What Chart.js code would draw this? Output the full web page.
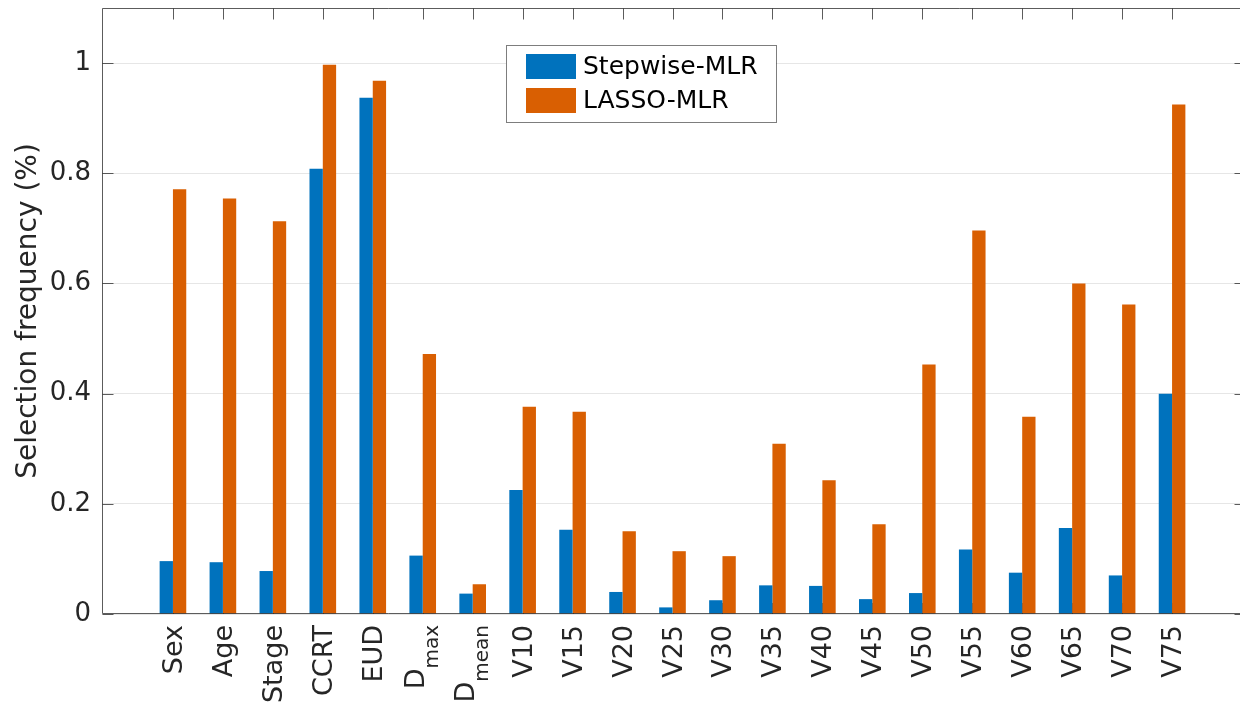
<!DOCTYPE html>
<html>
<head>
<meta charset="utf-8">
<title>Selection frequency</title>
<script src="https://cdn.jsdelivr.net/npm/chart.js@4/dist/chart.umd.min.js"></script>
<style>
  html, body { margin: 0; padding: 0; background: #fff; overflow: hidden; }
  canvas { display: block; }
</style>
</head>
<body>
<canvas id="freq-chart" width="1250" height="705"></canvas>
<script>
// candidate predictors; "_" marks a subscript (D_max -> D with "max" below)
const categories = ['Sex', 'Age', 'Stage', 'CCRT', 'EUD', 'D_max', 'D_mean',
  'V10', 'V15', 'V20', 'V25', 'V30', 'V35', 'V40', 'V45', 'V50',
  'V55', 'V60', 'V65', 'V70', 'V75'];

const stepwiseMLR = [0.096, 0.094, 0.078, 0.808, 0.937, 0.106, 0.037,
  0.225, 0.153, 0.040, 0.012, 0.025, 0.052, 0.051, 0.027, 0.038,
  0.117, 0.075, 0.156, 0.070, 0.400];

const lassoMLR = [0.771, 0.754, 0.713, 0.997, 0.968, 0.472, 0.054,
  0.376, 0.367, 0.150, 0.114, 0.105, 0.309, 0.243, 0.163, 0.453,
  0.696, 0.358, 0.600, 0.562, 0.925];

const yTickValues = [0, 0.2, 0.4, 0.6, 0.8, 1];

const FONT = '"DejaVu Sans", sans-serif';
const TEXT_COLOR = '#262626';
const FRAME_COLOR = 'rgba(38,38,38,0.75)';
const TICK_LEN = 11;

// bars sit at 1..N on a numeric axis so the limits can run past the first/last group
const positions = categories.map((_, i) => i + 1);
const toPoints = vals => vals.map((v, i) => ({ x: positions[i], y: v }));

const framePlugin = {
  id: 'frame',
  beforeDatasetsDraw(chart) {
    const { ctx, chartArea: a, scales: { x } } = chart;
    ctx.save();
    ctx.strokeStyle = FRAME_COLOR;
    ctx.lineWidth = 1;
    ctx.beginPath();
    positions.forEach(p => {
      const px = Math.round(x.getPixelForValue(p)) + 0.5;
      ctx.moveTo(px, a.bottom);
      ctx.lineTo(px, a.bottom - TICK_LEN);
    });
    ctx.stroke();
    ctx.restore();
  },
  afterDatasetsDraw(chart) {
    const { ctx, chartArea: a, scales: { x, y } } = chart;
    const L = Math.round(a.left) + 0.5, R = Math.round(a.right) - 0.5;
    const T = Math.round(a.top) + 0.5, B = Math.round(a.bottom) - 0.5;
    ctx.save();
    ctx.strokeStyle = FRAME_COLOR;
    ctx.lineWidth = 1;
    ctx.beginPath();
    ctx.rect(L, T, R - L, B - T);
    positions.forEach(p => {
      const px = Math.round(x.getPixelForValue(p)) + 0.5;
      ctx.moveTo(px, T);
      ctx.lineTo(px, T + TICK_LEN);
    });
    yTickValues.forEach(v => {
      const py = Math.round(y.getPixelForValue(v)) + 0.5;
      ctx.moveTo(L, py);
      ctx.lineTo(L + TICK_LEN, py);
      ctx.moveTo(R, py);
      ctx.lineTo(R - TICK_LEN, py);
    });
    ctx.stroke();
    ctx.restore();
  }
};

// vertical category names, with subscripts for the dose metrics
const categoryLabels = {
  id: 'categoryLabels',
  afterDraw(chart) {
    const { ctx, chartArea: a, scales: { x } } = chart;
    const mainSize = 27, subSize = 20;
    ctx.save();
    ctx.fillStyle = TEXT_COLOR;
    ctx.textBaseline = 'alphabetic';
    ctx.textAlign = 'left';
    categories.forEach((name, i) => {
      const [base, sub] = name.split('_');
      const cx = x.getPixelForValue(positions[i]);
      ctx.font = mainSize + 'px ' + FONT;
      const wBase = ctx.measureText(base).width;
      let wSub = 0;
      if (sub) {
        ctx.font = subSize + 'px ' + FONT;
        wSub = ctx.measureText(sub).width;
      }
      const total = wBase + wSub;
      ctx.save();
      ctx.translate(cx, a.bottom + 11);
      ctx.rotate(-Math.PI / 2);
      ctx.font = mainSize + 'px ' + FONT;
      ctx.fillText(base, -total, sub ? 1 : 9);
      if (sub) {
        ctx.font = subSize + 'px ' + FONT;
        ctx.fillText(sub, -wSub, 15);
      }
      ctx.restore();
    });
    ctx.restore();
  }
};

const legendBox = {
  id: 'legendBox',
  afterDraw(chart) {
    const { ctx, chartArea: a } = chart;
    const left = a.left + 404, top = a.top + 37, w = 270, h = 77;
    ctx.save();
    ctx.fillStyle = '#fff';
    ctx.fillRect(left, top, w, h);
    ctx.strokeStyle = 'rgba(38,38,38,0.6)';
    ctx.lineWidth = 1;
    ctx.strokeRect(Math.round(left) + 0.5, Math.round(top) + 0.5, w, h);
    ctx.font = '25px ' + FONT;
    ctx.textBaseline = 'middle';
    ctx.textAlign = 'left';
    chart.data.datasets.forEach((ds, i) => {
      const rowY = top + 9 + i * 34;
      ctx.fillStyle = ds.backgroundColor;
      ctx.fillRect(left + 20, rowY, 50, 25);
      ctx.fillStyle = '#000';
      ctx.fillText(ds.label, left + 77, rowY + 13);
    });
    ctx.restore();
  }
};

new Chart(document.getElementById('freq-chart'), {
  type: 'bar',
  data: {
    datasets: [
      {
        label: 'Stepwise-MLR',
        backgroundColor: '#0072BD',
        data: toPoints(stepwiseMLR)
      },
      {
        label: 'LASSO-MLR',
        backgroundColor: '#D95F02',
        data: toPoints(lassoMLR)
      }
    ]
  },
  options: {
    responsive: false,
    animation: false,
    devicePixelRatio: 1,
    layout: { padding: { top: 8, right: 4, left: 0, bottom: 0 } },
    datasets: {
      bar: { categoryPercentage: 0.533, barPercentage: 1, borderWidth: 0 }
    },
    plugins: {
      legend: { display: false },
      tooltip: { enabled: false }
    },
    scales: {
      x: {
        type: 'linear',
        position: 'bottom',
        min: -0.42,
        max: 22.48,
        offset: false,
        ticks: { display: false, stepSize: 1, includeBounds: false },
        grid: { display: false },
        border: { display: false },
        afterFit(scale) {
          scale.height = 91;
          scale.paddingLeft = 0;
          scale.paddingRight = 0;
        }
      },
      y: {
        min: 0,
        max: 1.1,
        afterBuildTicks(scale) {
          scale.ticks = yTickValues.map(v => ({ value: v }));
        },
        ticks: {
          font: { family: FONT, size: 26 },
          color: TEXT_COLOR,
          padding: 11,
          callback: v => String(+v.toFixed(1))
        },
        grid: { color: '#e6e6e6', lineWidth: 1, drawTicks: false },
        border: { display: false },
        title: {
          display: true,
          text: 'Selection frequency (%)',
          font: { family: FONT, size: 28 },
          color: TEXT_COLOR,
          padding: { top: 12, bottom: 0 }
        },
        afterFit(scale) {
          scale.width = 102;
          scale.paddingTop = 0;
          scale.paddingBottom = 0;
        }
      }
    }
  },
  plugins: [framePlugin, categoryLabels, legendBox]
});
</script>
</body>
</html>
